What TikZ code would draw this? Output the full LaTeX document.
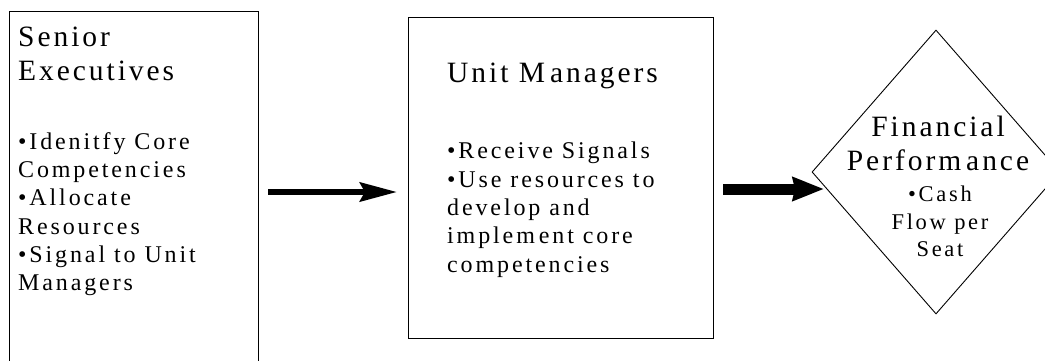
\documentclass[tikz,border=0pt]{standalone}
\usepackage{fontspec}
\setmainfont{Liberation Serif}
\newfontfamily\headfont{Liberation Serif}[LetterSpace=10]
\newfontfamily\listfont{Liberation Serif}[LetterSpace=12]
\usetikzlibrary{shapes.geometric,arrows.meta}

\tikzset{
  box/.style={draw, line width=0.9pt, inner sep=0pt},
  head/.style={inner sep=0pt, align=left, font=\headfont\fontsize{29.5}{34}\selectfont},
  items/.style={inner sep=0pt, align=left, font=\listfont\fontsize{24}{28.3}\selectfont},
  thinarrow/.style={line width=6pt, -{Stealth[length=37pt,width=19pt,inset=5pt]}},
  fatarrow/.style={line width=11pt, -{Stealth[length=31pt,width=23pt,inset=2pt]}}
}

\begin{document}
\begin{tikzpicture}[x=1pt,y=-1pt]
\useasboundingbox (0,0) rectangle (1045,360);
%left
\node[box, anchor=north west, minimum width=249pt, minimum height=360pt] (senior) at (9,11) {};
\node[head, anchor=north west] (seniorhead) at (18,27) {Senior\\Executives};
\node[items, anchor=north west] (seniorlist) at (18,132) {•Idenitfy Core\\Competencies\\•Allocate\\Resources\\•Signal to Unit\\Managers};
%middle
\node[box, anchor=north west, minimum width=305pt, minimum height=321pt] (unit) at (408,17) {};
\node[head, anchor=north west] (unithead) at (447,63) {Unit M\kern5pt anagers};
\node[items, anchor=north west] (unitlist) at (447,142) {•Receive Signals\\•Use resources to\\develop and\\implem\kern4pt ent core\\competencies};
%right
\node[draw, diamond, line width=0.9pt, inner sep=0pt, minimum width=248pt, minimum height=284pt] (perf) at (936,172) {};
\node[head, align=center, anchor=north] (perfhead) at (938,116) {Financial\\Perform\kern5pt ance};
\node[items, align=center, anchor=north, font=\listfont\fontsize{22.5}{27.5}\selectfont] (perflist) at (940,186) {•Cash\\Flow per\\Seat};
%arrows
\coordinate (a1s) at (268,192);
\coordinate (a1e) at (397,192);
\coordinate (a2s) at (723,189);
\coordinate (a2e) at (824,189);
\draw[thinarrow] (a1s) -- (a1e);
\draw[fatarrow] (a2s) -- (a2e);
\end{tikzpicture}
\end{document}
